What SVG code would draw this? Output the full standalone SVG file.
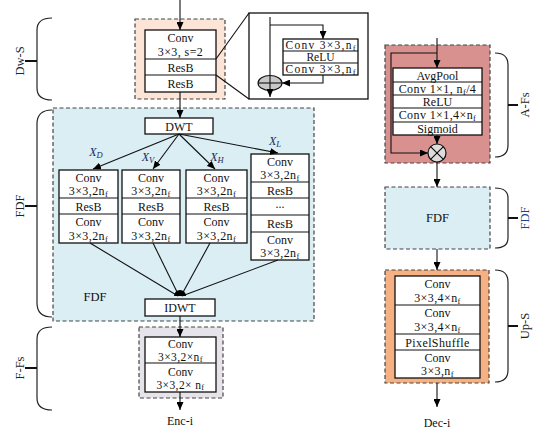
<svg xmlns="http://www.w3.org/2000/svg" width="555" height="435" viewBox="0 0 555 435">
<defs>
<marker id="ah" markerWidth="8" markerHeight="7" refX="8" refY="3.5" orient="auto" markerUnits="userSpaceOnUse">
<path d="M0,0 L8,3.5 L0,7 z" fill="#000"/>
</marker>
</defs>
<style>
text{font-family:"Liberation Serif","Times New Roman",serif;font-size:12px;fill:#111;text-anchor:middle}
.box{fill:#fff;stroke:#111;stroke-width:1.3}
.dash{stroke:#444;stroke-width:1.2;stroke-dasharray:4,2.5}
.ln{stroke:#111;stroke-width:1.1;fill:none}
.arr{stroke:#111;stroke-width:1.1;fill:none;marker-end:url(#ah)}
.brace{stroke:#222;stroke-width:1.2;fill:none}
.tick{stroke:#111;stroke-width:2}
.side{font-size:12.5px;fill:#222}
.it{font-style:italic;fill:#1a2a5a}
.sub{font-size:8.5px}
.w{letter-spacing:0.4px}
.s{font-size:11.5px}
</style>
<rect width="555" height="435" fill="#fff"/>

<!-- Braces and side labels -->
<g id="brace-dws">
<path class="brace" d="M52,18 Q37,18 37,30 L37,88 Q37,100 52,100"/>
<path class="tick" d="M25,61 L37,61"/>
<text class="side" transform="translate(24,61) rotate(-90)">Dw-S</text>
</g>
<g id="brace-fdf">
<path class="brace" d="M52,110 Q37,110 37,124 L37,303 Q37,317 52,317"/>
<path class="tick" d="M25,206 L37,206"/>
<text class="side" transform="translate(24,206) rotate(-90)">FDF</text>
</g>
<g id="brace-ffs">
<path class="brace" d="M52,327 Q37,327 37,339 L37,398 Q37,410 52,410"/>
<path class="tick" d="M25,368 L37,368"/>
<text class="side" transform="translate(24,368) rotate(-90)">F-Fs</text>
</g>
<g id="brace-afs">
<path class="brace" d="M495,53 Q508,53 508,65 L508,145 Q508,157 495,157"/>
<path class="tick" d="M508,105 L518,105"/>
<text class="side" transform="translate(529,105) rotate(-90)">A-Fs</text>
</g>
<g id="brace-fdf2">
<path class="brace" d="M495,188 Q508,188 508,198 L508,238 Q508,248 495,248"/>
<path class="tick" d="M508,218 L518,218"/>
<text class="side" transform="translate(529,218) rotate(-90)" style="fill:#1f3f8f">FDF</text>
</g>
<g id="brace-ups">
<path class="brace" d="M495,270 Q508,270 508,282 L508,370 Q508,382 495,382"/>
<path class="tick" d="M508,326 L518,326"/>
<text class="side" transform="translate(529,326) rotate(-90)">Up-S</text>
</g>

<!-- Dw-S -->
<g id="dws">
<rect x="135" y="19" width="90" height="80" fill="#fce4d6" class="dash"/>
<rect x="145" y="30" width="71" height="62" class="box"/>
<line x1="145" y1="59" x2="216" y2="59" class="ln"/>
<line x1="145" y1="75" x2="216" y2="75" class="ln"/>
<text x="180.5" y="42">Conv</text>
<text x="180.5" y="55.5" class="w">3×3, s=2</text>
<text x="180.5" y="71.5">ResB</text>
<text x="180.5" y="88">ResB</text>
</g>

<!-- ResB detail -->
<g id="resb-detail">
<rect x="249" y="13" width="119" height="86" fill="#fff" stroke="#111" stroke-width="1.3"/>
<rect x="283" y="39" width="75" height="36" class="box"/>
<line x1="283" y1="51" x2="358" y2="51" class="ln"/>
<line x1="283" y1="63" x2="358" y2="63" class="ln"/>
<text x="320.5" y="49" style="font-size:11.5px" textLength="70" lengthAdjust="spacing">Conv 3×3,n<tspan class="sub" dy="2">f</tspan></text>
<text x="320.5" y="61" style="font-size:11.5px">ReLU</text>
<text x="320.5" y="73" style="font-size:11.5px" textLength="70" lengthAdjust="spacing">Conv 3×3,n<tspan class="sub" dy="2">f</tspan></text>
<ellipse cx="270" cy="83" rx="12" ry="7.5" fill="#c8c8c8" stroke="#111" stroke-width="1.1"/>
<line x1="258" y1="83" x2="282" y2="83" class="ln"/>
</g>

<!-- FDF big -->
<g id="fdf">
<rect x="53" y="108" width="261" height="213" fill="#daeef3" class="dash"/>
<text x="95" y="301" style="font-size:12.5px">FDF</text>
</g>
<g id="dwt">
<rect x="145" y="118" width="68" height="16" class="box"/>
<text x="179" y="130.5">DWT</text>
</g>
<g id="branch-d">
<rect x="59" y="170" width="59" height="73" class="box"/>
<line x1="59" y1="198" x2="118" y2="198" class="ln"/>
<line x1="59" y1="214" x2="118" y2="214" class="ln"/>
<text x="88.5" y="182">Conv</text>
<text x="88.5" y="195" class="w">3×3,2n<tspan class="sub" dy="2">f</tspan></text>
<text x="88.5" y="210.5">ResB</text>
<text x="88.5" y="226">Conv</text>
<text x="88.5" y="239.5" class="w">3×3,2n<tspan class="sub" dy="2">f</tspan></text>
</g>
<g id="branch-v">
<rect x="122" y="170" width="58" height="73" class="box"/>
<line x1="122" y1="198" x2="180" y2="198" class="ln"/>
<line x1="122" y1="214" x2="180" y2="214" class="ln"/>
<text x="151" y="182">Conv</text>
<text x="151" y="195" class="w">3×3,2n<tspan class="sub" dy="2">f</tspan></text>
<text x="151" y="210.5">ResB</text>
<text x="151" y="226">Conv</text>
<text x="151" y="239.5" class="w">3×3,2n<tspan class="sub" dy="2">f</tspan></text>
</g>
<g id="branch-h">
<rect x="186" y="170" width="61" height="73" class="box"/>
<line x1="186" y1="198" x2="247" y2="198" class="ln"/>
<line x1="186" y1="214" x2="247" y2="214" class="ln"/>
<text x="216.5" y="182">Conv</text>
<text x="216.5" y="195" class="w">3×3,2n<tspan class="sub" dy="2">f</tspan></text>
<text x="216.5" y="210.5">ResB</text>
<text x="216.5" y="226">Conv</text>
<text x="216.5" y="239.5" class="w">3×3,2n<tspan class="sub" dy="2">f</tspan></text>
</g>
<g id="branch-l">
<rect x="251" y="154" width="58" height="106" class="box"/>
<line x1="251" y1="182" x2="309" y2="182" class="ln"/>
<line x1="251" y1="198" x2="309" y2="198" class="ln"/>
<line x1="251" y1="215" x2="309" y2="215" class="ln"/>
<line x1="251" y1="232" x2="309" y2="232" class="ln"/>
<text x="280" y="166">Conv</text>
<text x="280" y="179" class="w">3×3,2n<tspan class="sub" dy="2">f</tspan></text>
<text x="280" y="194.5">ResB</text>
<text x="280" y="208">...</text>
<text x="280" y="228">ResB</text>
<text x="280" y="244">Conv</text>
<text x="280" y="257" class="w">3×3,2n<tspan class="sub" dy="2">f</tspan></text>
</g>
<g id="idwt">
<rect x="145" y="299" width="70" height="17" class="box"/>
<text x="180" y="312">IDWT</text>
</g>
<g id="labels-x">
<text class="it" x="96" y="156">X<tspan class="sub" dy="2">D</tspan></text>
<text class="it" x="148" y="161">X<tspan class="sub" dy="2">V</tspan></text>
<text class="it" x="217" y="161">X<tspan class="sub" dy="2">H</tspan></text>
<text class="it" x="275" y="145">X<tspan class="sub" dy="2">L</tspan></text>
</g>

<!-- F-Fs -->
<g id="ffs">
<rect x="139" y="327" width="84" height="71" fill="#e7e3eb" class="dash"/>
<rect x="145" y="337" width="71" height="55" class="box"/>
<line x1="145" y1="363" x2="216" y2="363" class="ln"/>
<text x="180.5" y="347.5" class="s">Conv</text>
<text x="180.5" y="360.5" class="w s">3×3,2×n<tspan class="sub" dy="1.5">f</tspan></text>
<text x="180.5" y="375.5" class="s">Conv</text>
<text x="180.5" y="388.5" class="w s">3×3,2× n<tspan class="sub" dy="1.5">f</tspan></text>
</g>
<text x="180" y="425">Enc-i</text>

<!-- A-Fs -->
<g id="afs">
<rect x="385" y="45" width="105" height="118" fill="#d9918f" class="dash"/>
<rect x="393" y="68" width="89" height="67" class="box"/>
<line x1="393" y1="82" x2="482" y2="82" class="ln"/>
<line x1="393" y1="95" x2="482" y2="95" class="ln"/>
<line x1="393" y1="108" x2="482" y2="108" class="ln"/>
<line x1="393" y1="122" x2="482" y2="122" class="ln"/>
<text x="437.5" y="79.5">AvgPool</text>
<text x="437.5" y="92.5" class="w">Conv 1×1, n<tspan class="sub" dy="2">f</tspan><tspan dy="-2">/4</tspan></text>
<text x="437.5" y="105.5">ReLU</text>
<text x="437.5" y="119" class="w">Conv 1×1,4×n<tspan class="sub" dy="2">f</tspan></text>
<text x="437.5" y="132.5">Sigmoid</text>
<circle cx="437" cy="153" r="9" fill="#ddd" stroke="#111" stroke-width="1.2"/>
<path d="M430.6,146.6 L443.4,159.4 M443.4,146.6 L430.6,159.4" stroke="#111" stroke-width="1.2"/>
</g>

<!-- FDF small -->
<g id="fdf-small">
<rect x="385" y="187" width="105" height="62" fill="#daeef3" class="dash"/>
<text x="437.5" y="222" style="font-size:12.5px">FDF</text>
</g>

<!-- Up-S -->
<g id="ups">
<rect x="385" y="270" width="104" height="113" fill="#f5b183" class="dash"/>
<rect x="395" y="276" width="85" height="102" class="box"/>
<line x1="395" y1="305" x2="480" y2="305" class="ln"/>
<line x1="395" y1="334" x2="480" y2="334" class="ln"/>
<line x1="395" y1="350" x2="480" y2="350" class="ln"/>
<text x="437.5" y="288">Conv</text>
<text x="437.5" y="301.5" class="w">3×3,4×n<tspan class="sub" dy="2">f</tspan></text>
<text x="437.5" y="317">Conv</text>
<text x="437.5" y="330.5" class="w">3×3,4×n<tspan class="sub" dy="2">f</tspan></text>
<text x="437.5" y="346.5" class="w">PixelShuffle</text>
<text x="437.5" y="361.5">Conv</text>
<text x="437.5" y="374.5" class="w">3×3,n<tspan class="sub" dy="2">f</tspan></text>
</g>
<text x="437" y="427">Dec-i</text>

<!-- Connectors -->
<g id="connectors">
<line x1="180" y1="0" x2="180" y2="30" class="arr"/>
<line x1="216" y1="59" x2="249" y2="13" class="ln"/>
<line x1="216" y1="75" x2="249" y2="99" class="ln"/>
<line x1="270" y1="17" x2="270" y2="97" class="arr"/>
<path d="M270,25 L323,25 L323,39" class="arr"/>
<path d="M323,75 L323,83 L282,83" class="arr"/>
<line x1="180" y1="92" x2="180" y2="118" class="arr"/>
<line x1="179" y1="134" x2="93" y2="169" class="arr"/>
<line x1="179" y1="134" x2="153" y2="169" class="arr"/>
<line x1="179" y1="134" x2="215" y2="169" class="arr"/>
<line x1="179" y1="134" x2="278" y2="153" class="arr"/>
<line x1="90" y1="243" x2="178" y2="296" class="ln"/>
<line x1="153" y1="243" x2="179" y2="296" class="ln"/>
<line x1="210" y1="243" x2="181" y2="296" class="ln"/>
<line x1="278" y1="260" x2="182" y2="296" class="ln"/>
<path d="M174,296 A6,6 0 0 1 186,296 Z" fill="#000"/>
<line x1="180" y1="316" x2="180" y2="337" class="arr"/>
<line x1="180" y1="392" x2="180" y2="410" class="arr"/>
<line x1="437" y1="38" x2="437" y2="68" class="arr"/>
<path d="M437,53 L391,53 L391,153 L428,153" class="arr"/>
<line x1="437" y1="135" x2="437" y2="144" class="arr"/>
<line x1="437" y1="162" x2="437" y2="187" class="arr"/>
<line x1="437" y1="249" x2="437" y2="270" class="arr"/>
<line x1="437" y1="383" x2="437" y2="407" class="arr"/>
</g>
</svg>
